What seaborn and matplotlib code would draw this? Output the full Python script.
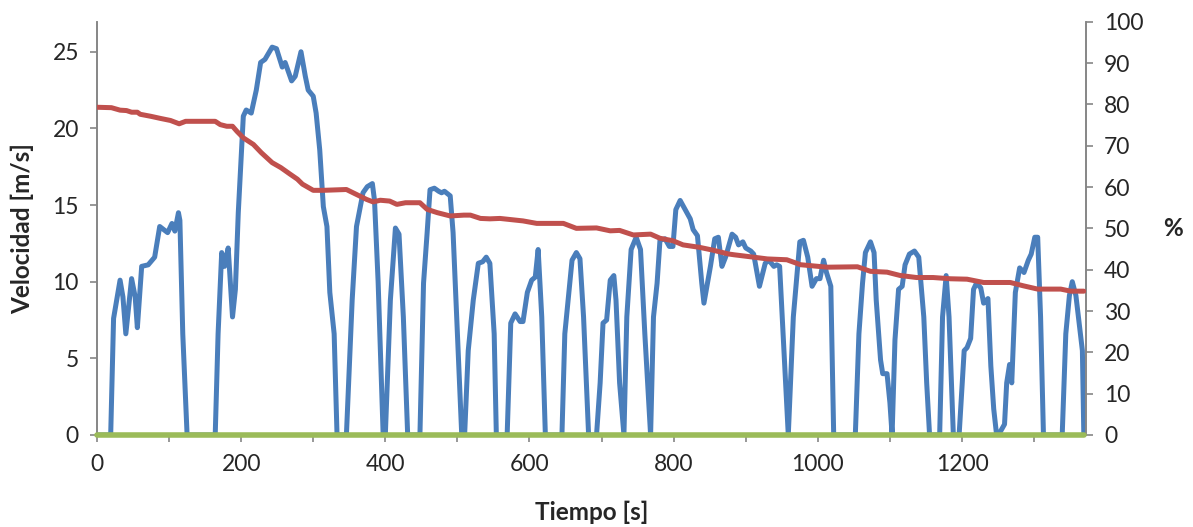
import matplotlib
matplotlib.use('Agg')
import matplotlib.pyplot as plt
import seaborn as sns
import pandas as pd

# Velocidad [m/s] vs tiempo [s]
tiempo_v = [0, 19, 23, 32, 36, 40, 48, 53, 56, 62, 71, 80, 87, 98, 104, 108, 113, 115, 119, 125,
            164, 168, 173, 177, 182, 188, 192, 196, 203, 207, 214, 221, 227, 233, 243, 249, 257, 261,
            270, 275, 283, 289, 293, 300, 304, 309, 314, 319, 323, 329, 333, 346, 354, 360, 369, 375,
            382, 385, 390, 397, 400, 407, 414, 419, 425, 431, 448, 453, 458, 462, 468, 474, 478, 482,
            490, 494, 499, 506, 510, 515, 522, 529, 535, 540, 545, 551, 554, 569, 574, 580, 587, 591,
            597, 603, 608, 612, 617, 622, 645, 649, 659, 665, 670, 675, 682, 693, 698, 702, 707, 712,
            717, 720, 725, 731, 735, 741, 748, 754, 760, 768, 772, 777, 781, 788, 794, 799, 803, 809,
            816, 823, 827, 833, 839, 842, 851, 857, 862, 867, 872, 881, 886, 890, 896, 900, 907, 911,
            919, 927, 932, 939, 943, 947, 959, 966, 970, 975, 980, 986, 992, 998, 1003, 1008, 1012,
            1018, 1022, 1052, 1057, 1062, 1066, 1073, 1078, 1081, 1087, 1090, 1096, 1100, 1103, 1107,
            1112, 1117, 1121, 1127, 1134, 1140, 1147, 1151, 1155, 1169, 1173, 1178, 1182, 1188, 1196,
            1203, 1207, 1212, 1216, 1220, 1226, 1230, 1236, 1240, 1244, 1248, 1253, 1259, 1262, 1266,
            1269, 1274, 1280, 1286, 1292, 1296, 1301, 1305, 1309, 1313, 1339, 1344, 1349, 1353, 1358,
            1362, 1367, 1369]
velocidad = [0, 0, 7.6, 10.1, 9.0, 6.6, 10.2, 9.0, 7.0, 11.0, 11.1, 11.6, 13.6, 13.2, 13.8, 13.3, 14.5, 14.0, 6.6, 0,
             0, 6.6, 11.9, 11.0, 12.2, 7.7, 9.5, 14.5, 20.8, 21.2, 21.0, 22.5, 24.3, 24.5, 25.3, 25.2, 24.0, 24.3,
             23.1, 23.4, 25.0, 23.4, 22.5, 22.1, 21.0, 18.6, 14.9, 13.6, 9.3, 6.6, 0, 0, 8.8, 13.6, 15.8, 16.2,
             16.4, 15.3, 10.0, 0, 0, 8.8, 13.5, 13.1, 7.7, 0, 0, 9.9, 13.2, 16.0, 16.1, 15.9, 15.8, 15.9,
             15.6, 13.2, 7.7, 0, 0, 5.5, 8.8, 11.2, 11.3, 11.6, 11.2, 6.6, 0, 0, 7.3, 7.9, 7.4, 7.4,
             9.3, 10.1, 10.3, 12.1, 7.7, 0, 0, 6.6, 11.4, 11.9, 11.5, 7.7, 0, 0, 3.4, 7.3, 7.5, 10.1,
             10.4, 8.8, 3.4, 0, 7.7, 12.1, 12.9, 12.1, 6.6, 0, 7.7, 9.9, 12.7, 12.8, 12.3, 12.3, 14.7, 15.3,
             14.7, 14.1, 13.4, 13.0, 9.9, 8.6, 11.0, 12.8, 12.9, 11.0, 11.6, 13.1, 12.9, 12.4, 12.6, 12.2, 12.0, 11.8,
             9.7, 11.2, 11.4, 11.0, 11.1, 11.0, 0, 7.7, 9.9, 12.6, 12.7, 11.6, 9.7, 10.2, 10.2, 11.4, 10.6,
             9.7, 0, 0, 6.6, 9.9, 11.9, 12.6, 11.9, 8.8, 4.9, 4.0, 4.0, 2.1, 0, 6.2,
             9.5, 9.7, 11.1, 11.8, 12.0, 11.6, 7.7, 3.4, 0, 0, 7.7, 10.4, 7.7, 0, 0,
             5.5, 5.7, 6.3, 9.5, 9.9, 9.6, 8.6, 8.9, 4.5, 1.7, 0, 0.2, 0.7, 3.4, 4.6,
             3.4, 9.3, 10.9, 10.6, 11.4, 11.8, 12.9, 12.9, 7.7, 0, 0, 6.6, 9.1, 10.0, 9.1,
             7.5, 5.5, 0]

# Porcentaje [%] vs tiempo [s]
tiempo_p = [0, 20, 32, 41, 48, 56, 60, 75, 88, 102, 114, 123, 164, 171, 180, 188, 194, 203, 217, 228,
            243, 255, 268, 278, 285, 300, 314, 346, 360, 374, 383, 393, 406, 416, 428, 448, 458, 472,
            490, 509, 518, 532, 545, 559, 575, 591, 610, 647, 665, 693, 712, 725, 744, 768, 781, 799,
            813, 836, 855, 876, 884, 912, 930, 957, 976, 1013, 1055, 1073, 1096, 1114, 1137, 1160,
            1184, 1207, 1230, 1267, 1285, 1305, 1337, 1351, 1369]
porcentaje = [79.3, 79.2, 78.6, 78.5, 78.1, 78.1, 77.6, 77.1, 76.6, 76.1, 75.3, 75.9, 75.9, 75.1, 74.7, 74.7, 73.5, 71.9, 70.3, 68.3,
              65.9, 64.7, 63.1, 61.9, 60.7, 59.2, 59.2, 59.4, 58.2, 57.0, 56.4, 56.8, 56.6, 55.8, 56.2, 56.2, 54.6, 53.8,
              53.0, 53.2, 53.2, 52.4, 52.3, 52.4, 52.1, 51.8, 51.2, 51.2, 50.0, 50.1, 49.4, 49.5, 48.4, 48.6, 47.6, 47.0,
              46.0, 45.4, 44.7, 43.8, 43.6, 43.0, 42.6, 42.4, 41.2, 40.6, 40.7, 39.6, 39.4, 38.6, 38.1, 38.1,
              37.8, 37.7, 36.9, 36.9, 36.1, 35.3, 35.3, 34.8, 34.8]

# Serie verde (constante en cero)
tiempo_g = [0, 1369]
serie_g = [0, 0]

sns.set_style('white')
plt.rcParams['font.family'] = ['Lato', 'DejaVu Sans']

fig = plt.figure(figsize=(11.93, 5.27), dpi=100)
ax = fig.add_axes([0.0813, 0.1746, 0.8290, 0.7842])

sns.lineplot(x=tiempo_v, y=velocidad, ax=ax, color='#4A7EBB', linewidth=3.6, estimator=None)

ax2 = ax.twinx()
sns.lineplot(x=tiempo_g, y=serie_g, ax=ax2, color='#9BBB59', linewidth=4.0, estimator=None)
sns.lineplot(x=tiempo_p, y=porcentaje, ax=ax2, color='#C0504D', linewidth=3.6, estimator=None)
ax2.lines[0].set_clip_on(False)
ax2.lines[0].set_zorder(5)
ax2.lines[1].set_zorder(6)

ax.set_xlim(0, 1372)
ax.set_ylim(0, 26.96)
ax2.set_ylim(0, 100)
ax.set_xticks(range(0, 1400, 200))
ax.set_xticks(range(0, 1400, 100), minor=True)
ax.set_yticks(range(0, 30, 5))
ax2.set_yticks(range(0, 110, 10))

grey = '#868686'
for a in (ax, ax2):
    a.spines['top'].set_visible(False)
    for s in ('left', 'right', 'bottom'):
        a.spines[s].set_color(grey)
        a.spines[s].set_linewidth(1.2)

ax.tick_params(axis='x', which='both', direction='out', length=5, color=grey, width=1.2,
               labelsize=16.5, pad=9, bottom=True)
ax.tick_params(axis='y', direction='out', length=5, color=grey, width=1.2, labelsize=16.5, pad=8, left=True)
ax2.tick_params(axis='y', direction='out', length=5, color=grey, width=1.2, labelsize=16.5, pad=8, right=True)

ax.set_xlabel('Tiempo [s]', fontsize=17.5, fontweight='bold', va='center')
ax.xaxis.set_label_coords(0.5, -0.186)
ax.set_ylabel('Velocidad [m/s]', fontsize=17.5, fontweight='bold', va='center')
ax.yaxis.set_label_coords(-0.0755, 0.5)
ax2.set_ylabel('%', fontsize=17.5, fontweight='bold', rotation=0, va='center')
ax2.yaxis.set_label_coords(1.088, 0.5)

fig.savefig('out.png', dpi=100)
